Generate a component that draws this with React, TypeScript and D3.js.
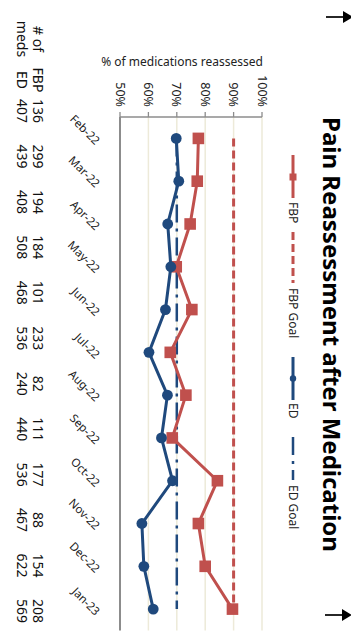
import React from 'react';
import * as d3 from 'd3';

// Monthly share of pain medications that were reassessed, by unit
const months = ['Feb-22', 'Mar-22', 'Apr-22', 'May-22', 'Jun-22', 'Jul-22', 'Aug-22', 'Sep-22', 'Oct-22', 'Nov-22', 'Dec-22', 'Jan-23'];
const fbpPct = [77.6, 77.2, 74.7, 69.8, 75.3, 67.7, 73.2, 68.4, 84.3, 77.6, 80.0, 89.6];
const edPct = [69.8, 70.7, 66.8, 67.9, 66.0, 60.2, 66.7, 64.6, 68.5, 57.7, 58.4, 61.7];
const fbpGoal = 90;
const edGoal = 70;

// Number of medications per month
const fbpCounts = [136, 299, 194, 184, 101, 233, 82, 111, 177, 88, 154, 208];
const edCounts = [407, 439, 408, 508, 468, 536, 240, 440, 536, 467, 622, 569];

const valueTicks = [50, 60, 70, 80, 90, 100];

const RED = '#C0504D';
const BLUE = '#1F497D';
const AXIS = '#8C8C8C';
const GRID = '#EDEAD9';
const FONT = "'Noto Sans', 'Open Sans', sans-serif";

// The chart is laid out landscape (635 x 351) and turned a quarter turn clockwise.
const W = 635;
const H = 351;

export default function App() {
  const x = d3.scaleBand<string>().domain(months).range([117, 630.5]);
  const y = d3.scaleLinear().domain([50, 100]).range([231, 89]);
  const cx = (m: string) => (x(m) as number) + x.bandwidth() / 2;
  const col = d3.scalePoint<string>().domain(months).range([111, 611]);

  const line = d3
    .line<number>()
    .x((_, i) => cx(months[i]))
    .y((v) => y(v));

  const x0 = cx(months[0]);
  const x1 = cx(months[months.length - 1]);

  const legendY = 58;

  return (
    <svg
      width={H}
      height={W}
      style={{ position: 'absolute', left: 0, top: 0, background: '#fff' }}
      fontFamily={FONT}
    >
      <rect width={H} height={W} fill="#fff" />
      <g transform={`translate(${H},0) rotate(90)`}>
        {/* gridlines */}
        {valueTicks.slice(1).map((t) => (
          <line key={t} x1={117} x2={630.5} y1={y(t)} y2={y(t)} stroke={GRID} strokeWidth={1.5} />
        ))}

        {/* value axis */}
        <line x1={117} x2={117} y1={y(100)} y2={y(50)} stroke={AXIS} strokeWidth={1.3} />
        {valueTicks.map((t) => (
          <g key={t}>
            <line x1={112} x2={117} y1={y(t)} y2={y(t)} stroke={AXIS} strokeWidth={1.3} />
            <text x={107} y={y(t)} textAnchor="end" dominantBaseline="central" fontSize={12.5} fill="#222">
              {t}%
            </text>
          </g>
        ))}
        <text
          transform={`translate(66,169) rotate(-90)`}
          textAnchor="middle"
          fontSize={12}
          fill="#222"
        >
          % of medications reassessed
        </text>

        {/* category axis */}
        <line x1={117} x2={630.5} y1={231} y2={231} stroke={AXIS} strokeWidth={2} />
        {months.map((m) => (
          <text
            key={m}
            transform={`translate(${cx(m) + 7},256) rotate(-45)`}
            textAnchor="end"
            fontSize={11.5}
            fill="#222"
          >
            {m}
          </text>
        ))}

        {/* goals */}
        <line x1={x0} x2={x1} y1={y(fbpGoal)} y2={y(fbpGoal)} stroke={RED} strokeWidth={3} strokeDasharray="8,4" />
        <line x1={x0} x2={x1} y1={y(edGoal)} y2={y(edGoal)} stroke={BLUE} strokeWidth={2.5} strokeDasharray="18,6,3,6" />

        {/* FBP series */}
        <path d={line(fbpPct) || ''} fill="none" stroke={RED} strokeWidth={3} strokeLinejoin="round" />
        {fbpPct.map((v, i) => (
          <rect key={i} x={cx(months[i]) - 5.8} y={y(v) - 5.8} width={11.6} height={11.6} fill={RED} />
        ))}

        {/* ED series */}
        <path d={line(edPct) || ''} fill="none" stroke={BLUE} strokeWidth={3} strokeLinejoin="round" />
        {edPct.map((v, i) => (
          <circle key={i} cx={cx(months[i])} cy={y(v)} r={5.4} fill={BLUE} />
        ))}

        {/* title */}
        <text x={334.5} y={28} textAnchor="middle" fontSize={24} fontWeight="bold" fill="#000">
          Pain Reassessment after Medication
        </text>

        {/* legend */}
        <g fontSize={12} fill="#222">
          <line x1={155} x2={198} y1={legendY} y2={legendY} stroke={RED} strokeWidth={3} />
          <rect x={173.5} y={legendY - 3.5} width={7} height={7} fill={RED} />
          <text x={202} y={legendY} dominantBaseline="central">FBP</text>

          <line x1={232} x2={283} y1={legendY} y2={legendY} stroke={RED} strokeWidth={3} strokeDasharray="8,4" />
          <text x={288} y={legendY} dominantBaseline="central">FBP Goal</text>

          <line x1={357} x2={400} y1={legendY} y2={legendY} stroke={BLUE} strokeWidth={3} />
          <circle cx={378.5} cy={legendY} r={3.2} fill={BLUE} />
          <text x={403} y={legendY} dominantBaseline="central">ED</text>

          <line x1={437} x2={480} y1={legendY} y2={legendY} stroke={BLUE} strokeWidth={2.5} strokeDasharray="18,6,3,6" />
          <text x={485} y={legendY} dominantBaseline="central">ED Goal</text>
        </g>

        {/* medication counts table */}
        <g fontSize={14} fill="#111" textAnchor="middle">
          <text x={39} y={318}># of</text>
          <text x={39} y={334}>meds</text>
          <text x={80} y={318}>FBP</text>
          <text x={80} y={334}>ED</text>
          {months.map((m, i) => (
            <g key={m}>
              <text x={col(m)} y={318}>{fbpCounts[i]}</text>
              <text x={col(m)} y={334}>{edCounts[i]}</text>
            </g>
          ))}
        </g>
      </g>

      {/* page-edge arrows */}
      <line x1={326} x2={345} y1={17} y2={17} stroke="#000" strokeWidth={1.7} />
      <polygon points="343,11 343,23 353,17" fill="#000" />
      <line x1={325} x2={344} y1={615} y2={615} stroke="#000" strokeWidth={1.7} />
      <polygon points="342,609 342,621 352,615" fill="#000" />
    </svg>
  );
}
